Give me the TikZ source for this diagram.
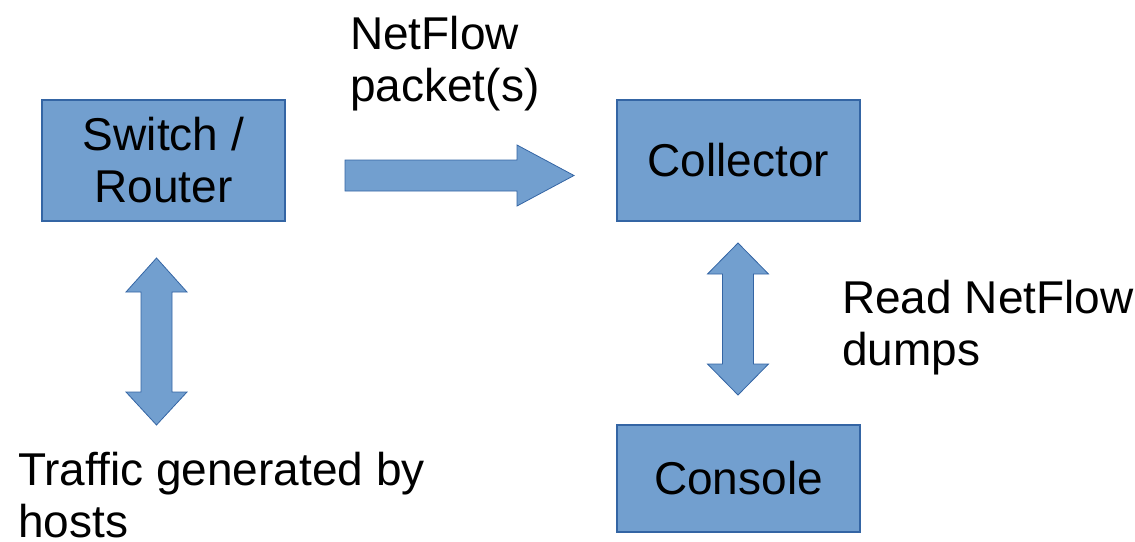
\documentclass[tikz,border=0pt]{standalone}
\usepackage{fontspec}
\setmainfont{Liberation Sans}
\definecolor{boxfill}{HTML}{729FCF}
\definecolor{boxline}{HTML}{3465A4}
\begin{document}
\begin{tikzpicture}[x=1pt,y=-1pt,
  every node/.style={font=\fontsize{46}{52}\selectfont, text=black},
  unit/.style={draw=boxline, fill=boxfill, line width=1.2pt, inner sep=0pt,
    minimum width=243pt, align=center},
  blockarrow/.style={draw=boxline, fill=boxfill, line width=0.8pt, line join=miter},
  caption/.style={anchor=north west, inner sep=0pt, align=left}]
  \useasboundingbox (0,0) rectangle (1135,541);

  % devices
  \node[unit, minimum height=121pt] (router) at (163.5,160.5) {Switch /\\Router};
  \node[unit, minimum height=121pt] (collector) at (738.5,160.5) {Collector};
  \node[unit, minimum height=107pt] (console) at (738.5,478.5) {Console};

  % export of flow records: router -> collector
  \draw[blockarrow] (345,160) -- (517,160) -- (517,145) -- (574,175.5)
    -- (517,206) -- (517,191) -- (345,191) -- cycle;

  % traffic between hosts and router
  \draw[blockarrow] (156.5,258) -- (187,292) -- (172,292) -- (172,392) -- (187,392)
    -- (156.5,425) -- (126,392) -- (141,392) -- (141,292) -- (126,292) -- cycle;

  % collector <-> console
  \draw[blockarrow] (738,243) -- (768.5,274) -- (753.5,274) -- (753.5,364) -- (768.5,364)
    -- (738,395) -- (707.5,364) -- (722.5,364) -- (722.5,274) -- (707.5,274) -- cycle;

  % labels
  \node[caption] (lblexport) at (350,15.5) {NetFlow\\packet(s)};
  \node[caption] (lblread) at (842,279.5) {Read NetFlow\\dumps};
  \node[caption] (lbltraffic) at (18,451.5) {Traffic generated by\\hosts};
\end{tikzpicture}
\end{document}
